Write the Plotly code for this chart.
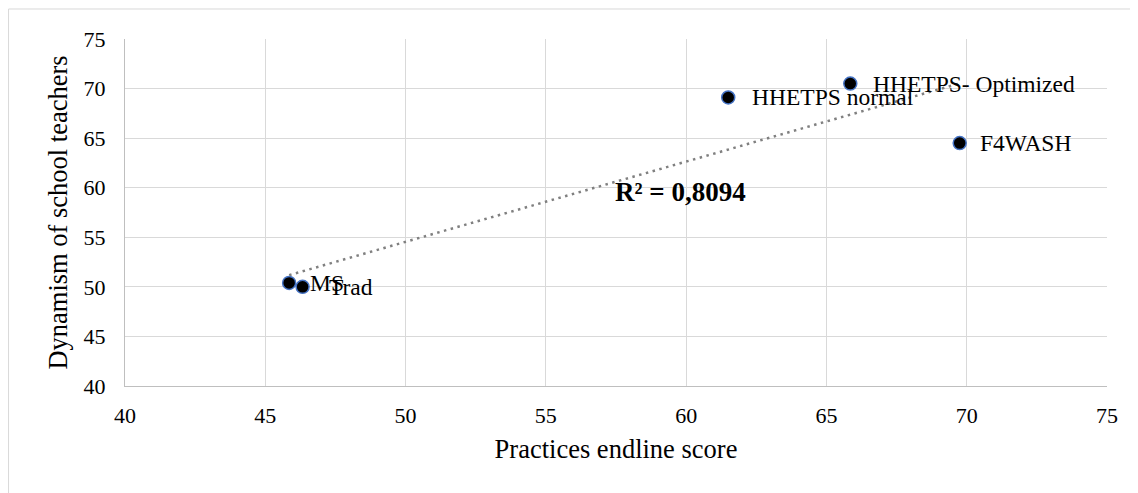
import numpy as np
import plotly.graph_objects as go

names = ["MS", "Trad", "HHETPS normal", "HHETPS- Optimized", "F4WASH"]
practices = [45.85, 46.33, 61.5, 65.85, 69.75]
dynamism = [50.4, 50.0, 69.1, 70.5, 64.5]
label_xshift = [19, 24, 22, 21, 18]
r2_text = "R² = 0,8094"
x_ticks = [40, 45, 50, 55, 60, 65, 70, 75]
y_ticks = [40, 45, 50, 55, 60, 65, 70, 75]

FONT = "Liberation Serif, Times New Roman, serif"

slope, intercept = np.polyfit(practices, dynamism, 1)
tx = [min(practices), max(practices)]
ty = [slope * v + intercept for v in tx]

fig = go.Figure()
fig.add_trace(go.Scatter(x=tx, y=ty, mode="lines",
                         line=dict(color="#808080", width=2.5, dash="2.5px,4.5px"),
                         showlegend=False, hoverinfo="skip"))
fig.add_trace(go.Scatter(x=practices, y=dynamism, mode="markers",
                         marker=dict(color="black", size=13,
                                     line=dict(color="#4472C4", width=1.5)),
                         showlegend=False))

for n, x, y, xs in zip(names, practices, dynamism, label_xshift):
    fig.add_annotation(x=x, y=y, text=n, showarrow=False, xanchor="left",
                       yanchor="middle", xshift=xs,
                       font=dict(family=FONT, size=23.5, color="black"))

fig.add_annotation(x=59.79, y=59.6, text="<b>" + r2_text + "</b>", showarrow=False,
                   xanchor="center", yanchor="middle",
                   font=dict(family=FONT, size=27, color="black"))

fig.add_shape(type="rect", xref="paper", yref="paper",
              x0=-0.1186, x1=1.2, y0=-0.6, y1=1.0865,
              line=dict(color="#D9D9D9", width=1), layer="below")

axis_common = dict(showgrid=True, gridcolor="#D9D9D9", gridwidth=1,
                   showline=True, linecolor="#BFBFBF", linewidth=1,
                   zeroline=False, ticks="", mirror=False,
                   tickfont=dict(family=FONT, size=22, color="black"))

fig.update_layout(
    width=1138, height=493,
    margin=dict(l=117, r=39, t=31, b=115),
    paper_bgcolor="white", plot_bgcolor="white",
    xaxis=dict(range=[40, 75], tickvals=x_ticks, ticklabelstandoff=10, **axis_common,
               title=dict(text="Practices endline score", standoff=12,
                          font=dict(family=FONT, size=26.5, color="black"))),
    yaxis=dict(range=[40, 75], tickvals=y_ticks, ticklabelstandoff=14, **axis_common,
               title=dict(text="Dynamism of school teachers", standoff=8,
                          font=dict(family=FONT, size=26.5, color="black"))),
)

fig.write_html("out.html")
